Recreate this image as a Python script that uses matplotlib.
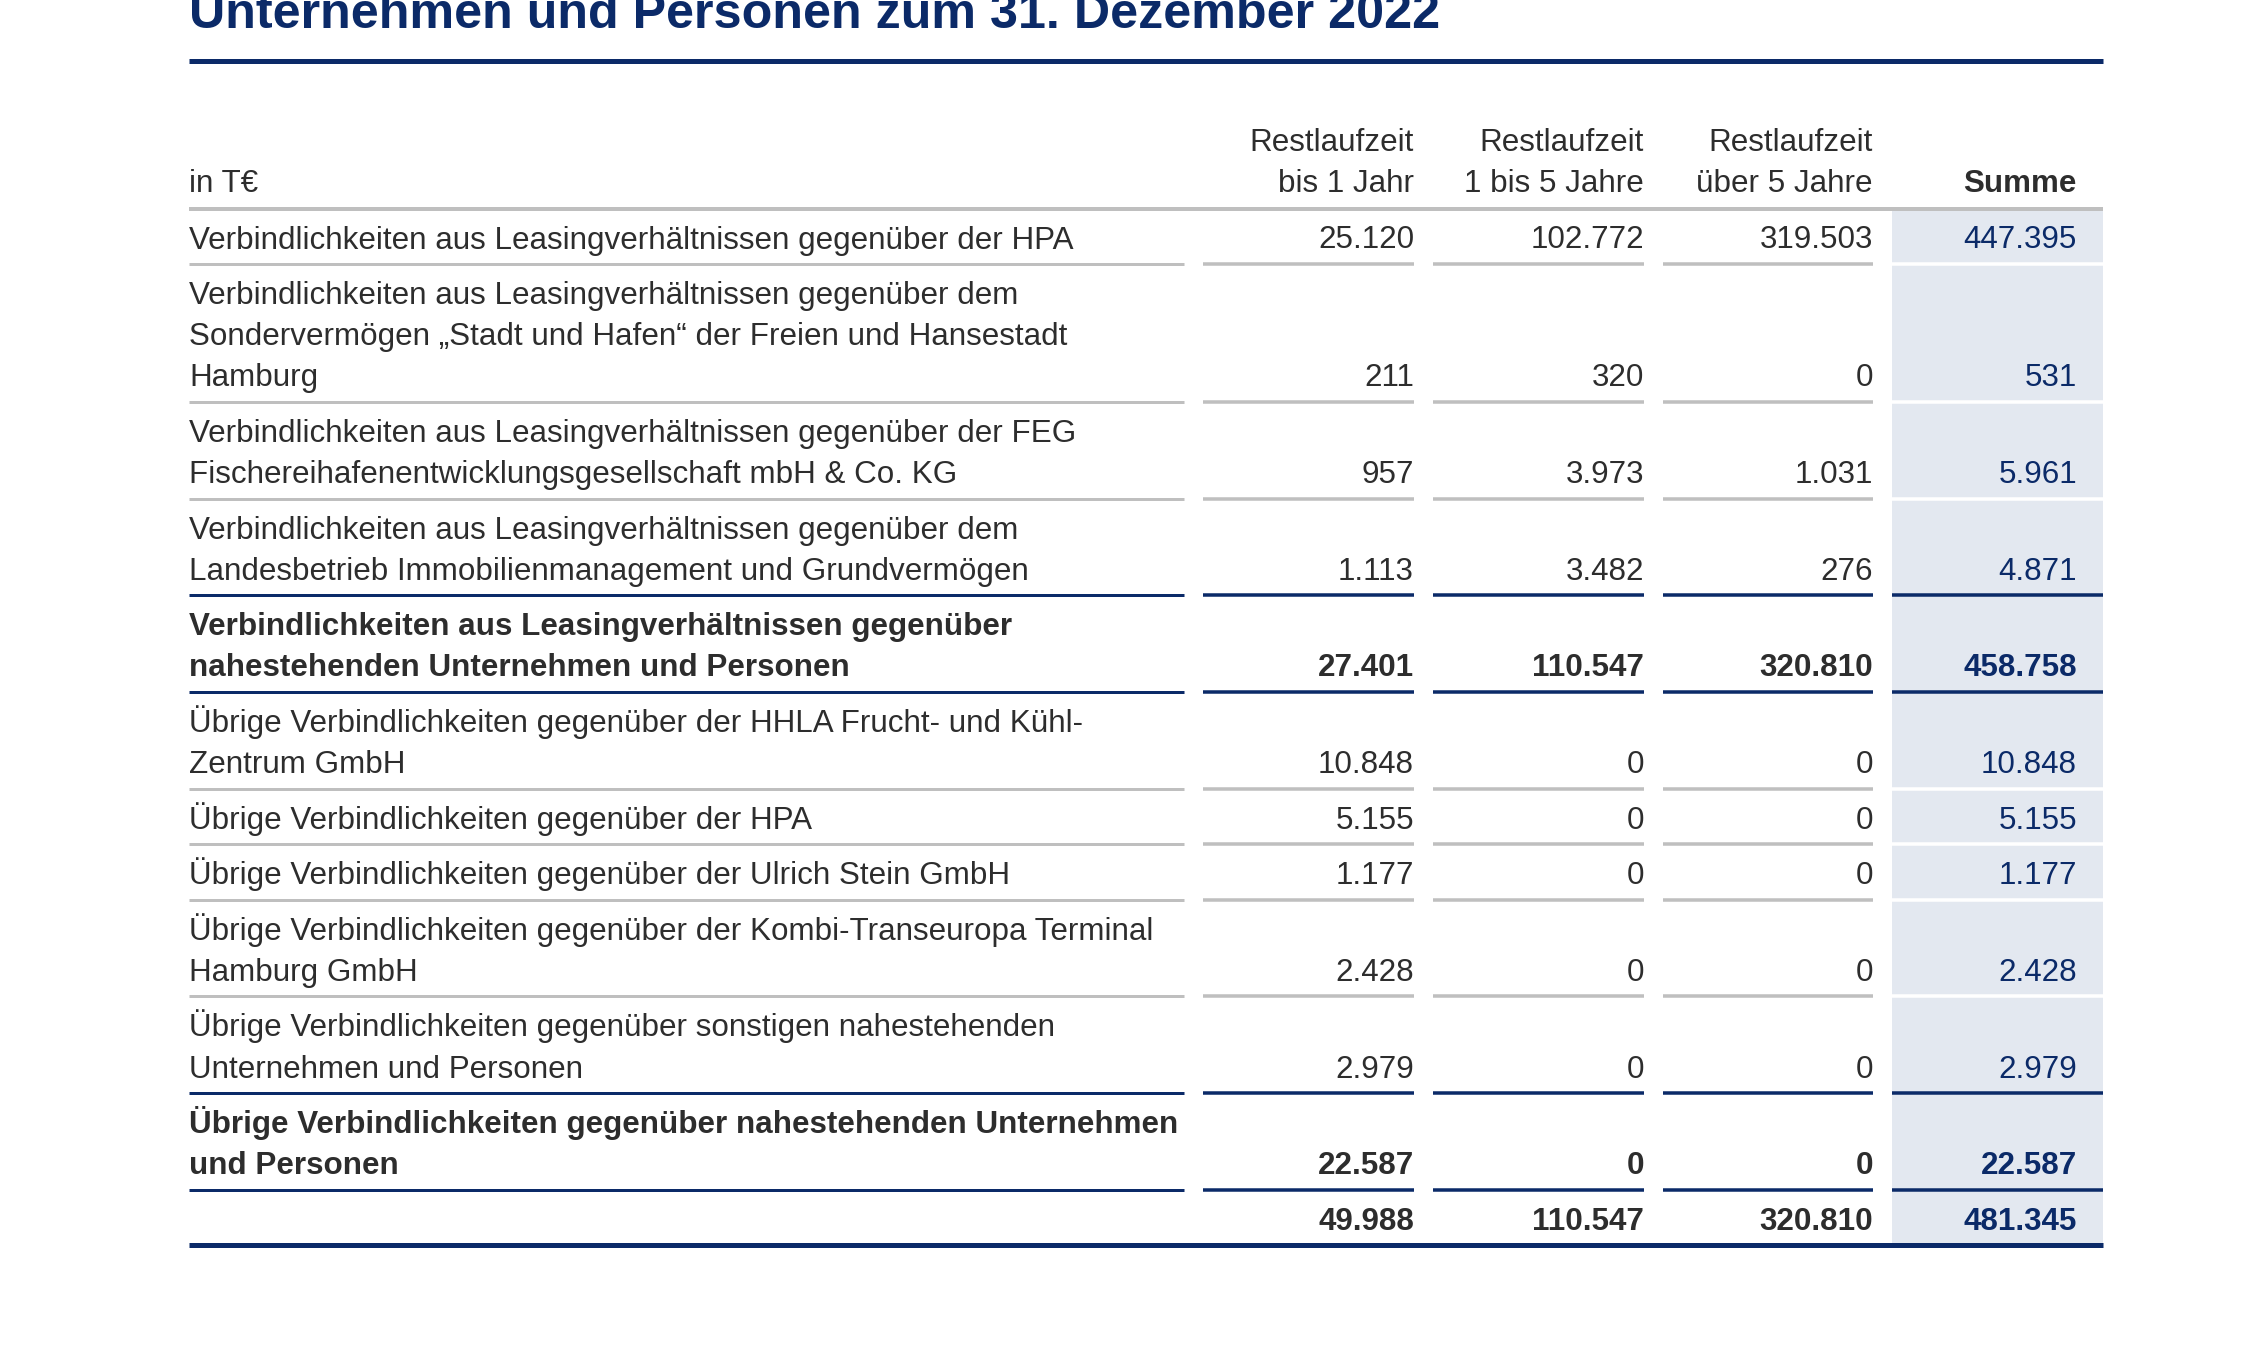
import matplotlib.pyplot as plt
from matplotlib.patches import Rectangle

plt.rcParams['font.family'] = ['Liberation Sans', 'DejaVu Sans']

# table content
title = "Unternehmen und Personen zum 31. Dezember 2022"
unit_label = "in T€"
col_headers = ["Restlaufzeit\nbis 1 Jahr", "Restlaufzeit\n1 bis 5 Jahre",
               "Restlaufzeit\nüber 5 Jahre", "Summe"]

row_labels = [
    "Verbindlichkeiten aus Leasingverhältnissen gegenüber der HPA",
    "Verbindlichkeiten aus Leasingverhältnissen gegenüber dem\nSondervermögen „Stadt und Hafen“ der Freien und Hansestadt\nHamburg",
    "Verbindlichkeiten aus Leasingverhältnissen gegenüber der FEG\nFischereihafenentwicklungsgesellschaft mbH & Co. KG",
    "Verbindlichkeiten aus Leasingverhältnissen gegenüber dem\nLandesbetrieb Immobilienmanagement und Grundvermögen",
    "Verbindlichkeiten aus Leasingverhältnissen gegenüber\nnahestehenden Unternehmen und Personen",
    "Übrige Verbindlichkeiten gegenüber der HHLA Frucht- und Kühl-\nZentrum GmbH",
    "Übrige Verbindlichkeiten gegenüber der HPA",
    "Übrige Verbindlichkeiten gegenüber der Ulrich Stein GmbH",
    "Übrige Verbindlichkeiten gegenüber der Kombi-Transeuropa Terminal\nHamburg GmbH",
    "Übrige Verbindlichkeiten gegenüber sonstigen nahestehenden\nUnternehmen und Personen",
    "Übrige Verbindlichkeiten gegenüber nahestehenden Unternehmen\nund Personen",
    "",
]
bis_1_jahr = [25120, 211, 957, 1113, 27401, 10848, 5155, 1177, 2428, 2979, 22587, 49988]
ein_bis_5_jahre = [102772, 320, 3973, 3482, 110547, 0, 0, 0, 0, 0, 0, 110547]
ueber_5_jahre = [319503, 0, 1031, 276, 320810, 0, 0, 0, 0, 0, 0, 320810]
summe = [447395, 531, 5961, 4871, 458758, 10848, 5155, 1177, 2428, 2979, 22587, 481345]
bold_rows = [4, 10, 11]
navy_rules = [3, 4, 9, 10]

# styles
NAVY = '#0b2a68'
TEXT = '#2d2d2d'
GRAY = '#bfbfbf'
SHADE = '#e3e8f0'
FS = 22.55


def fmt(v):
    return f"{v:,}".replace(",", ".")


fig = plt.figure(figsize=(22.65, 13.52), dpi=100)
ax = fig.add_axes([0, 0, 1, 1])
ax.set_xlim(0, 2265)
ax.set_ylim(1352, 0)
ax.axis('off')

left, right = 189, 2103
label_end = 1184
col_spans = [(1203, 1414), (1433, 1644), (1663, 1873), (1892, 2103)]
col_text_x = [1414, 1644, 1873, 2077]
px = 0.72  # points per pixel

# title (cut at the top edge, as in the source page)
ax.text(left, 28, title, fontsize=36.2, fontweight='bold', color=NAVY,
        ha='left', va='baseline')
ax.plot([left, right], [61, 61], color=NAVY, lw=5 * px, solid_capstyle='butt')

# header
ax.text(left, 192, unit_label, fontsize=FS, color=TEXT, ha='left', va='baseline')
for i, h in enumerate(col_headers):
    parts = h.split("\n")
    for k, p in enumerate(reversed(parts)):
        ax.text(col_text_x[i], 192 - 41 * k, p, fontsize=FS, color=TEXT,
                ha='right', va='baseline',
                fontweight='bold' if i == 3 else 'normal')
head_line = 208.5

# rows
first_h, line_h = 55.5, 41.2
tops = [head_line]
for lab in row_labels:
    n = max(1, lab.count("\n") + 1)
    tops.append(tops[-1] + first_h + line_h * (n - 1))

ax.add_patch(Rectangle((col_spans[3][0], head_line), col_spans[3][1] - col_spans[3][0],
                       tops[-1] - head_line, color=SHADE, lw=0, zorder=0))
ax.plot([left, right], [head_line, head_line], color=GRAY, lw=4 * px,
        solid_capstyle='butt')

for r, lab in enumerate(row_labels):
    top, bottom = tops[r], tops[r + 1]
    weight = 'bold' if r in bold_rows else 'normal'
    lines = lab.split("\n") if lab else [""]
    for k, line in enumerate(lines):
        ax.text(left, top + 40 + line_h * k, line, fontsize=FS, color=TEXT,
                fontweight=weight, ha='left', va='baseline')
    base = top + 40 + line_h * (len(lines) - 1)
    vals = [bis_1_jahr[r], ein_bis_5_jahre[r], ueber_5_jahre[r], summe[r]]
    for i, v in enumerate(vals):
        ax.text(col_text_x[i], base, fmt(v), fontsize=FS, fontweight=weight,
                color=NAVY if i == 3 else TEXT, ha='right', va='baseline')

    # rule below the row
    if r == len(row_labels) - 1:
        ax.plot([left, right], [bottom, bottom], color=NAVY, lw=5 * px,
                solid_capstyle='butt')
        continue
    c = NAVY if r in navy_rules else GRAY
    ax.plot([left, label_end], [bottom, bottom], color=c, lw=3 * px, solid_capstyle='butt')
    for i, (a, b) in enumerate(col_spans):
        cc = c if (i < 3 or r in navy_rules) else 'white'
        ax.plot([a, b], [bottom, bottom], color=cc, lw=3.5 * px, solid_capstyle='butt')

fig.savefig('out.png', dpi=100)
